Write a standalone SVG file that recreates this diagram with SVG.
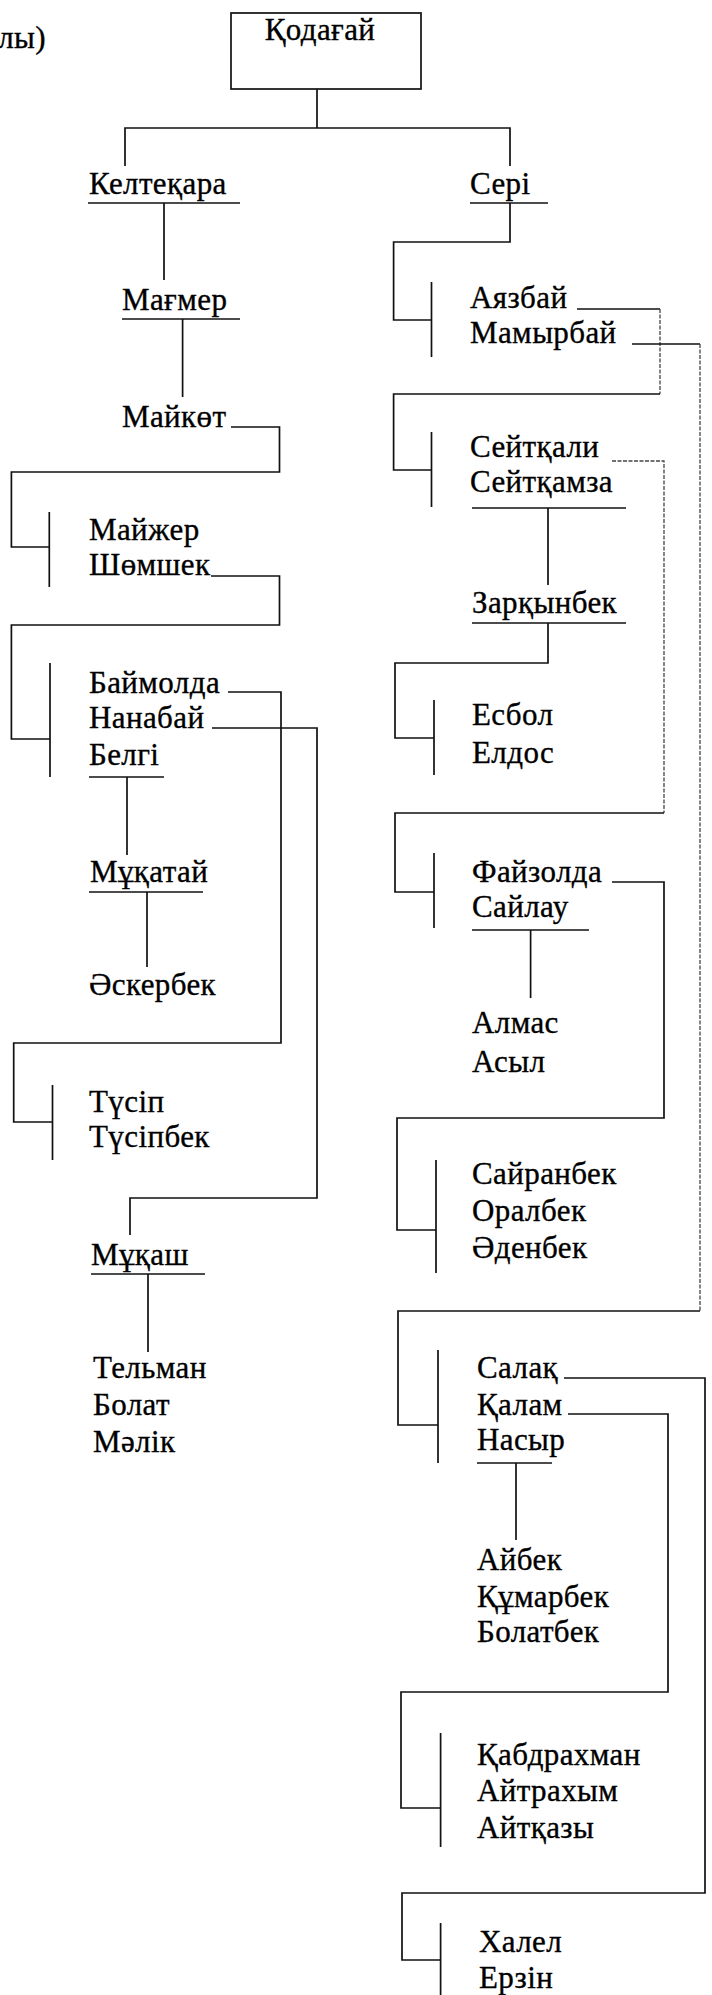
<svg xmlns="http://www.w3.org/2000/svg" width="712" height="1995" viewBox="0 0 712 1995" font-family="'Liberation Serif', serif">
<style>
text{font-family:"Liberation Serif",serif;font-size:31px;fill:#000;stroke:#000;stroke-width:0.35px;letter-spacing:0.4px}
.c{stroke:#111;stroke-width:1.7;fill:none}
.d{stroke:#444;stroke-width:1.3;fill:none;stroke-dasharray:4 1.5}
</style>
<rect width="712" height="1995" fill="#fff"/>
<text x="46" y="48" text-anchor="end">лы)</text>
<g id="n-kodagai"><rect x="231" y="13" width="190" height="76" class="c"/><text x="320" y="40" text-anchor="middle">Қодағай</text></g>
<g id="n-kelte"><text x="89" y="194">Келтеқара</text><line x1="88" y1="203" x2="240" y2="203" class="c"/></g>
<g id="n-seri"><text x="470" y="194">Сері</text><line x1="470" y1="203" x2="548" y2="203" class="c"/></g>
<g id="n-magmer"><text x="122" y="310">Мағмер</text><line x1="122" y1="319" x2="240" y2="319" class="c"/></g>
<g id="n-maikot"><text x="122" y="427">Майкөт</text></g>
<g id="n-maizher"><text x="89" y="540">Майжер</text><text x="89" y="575">Шөмшек</text></g>
<g id="n-baimolda"><text x="89" y="693">Баймолда</text><text x="89" y="728">Нанабай</text><text x="89" y="765">Белгі</text><line x1="89" y1="777" x2="164" y2="777" class="c"/></g>
<g id="n-mukatai"><text x="90" y="882">Мұқатай</text><line x1="89" y1="892" x2="203" y2="892" class="c"/></g>
<g id="n-askerbek"><text x="89" y="995">Әскербек</text></g>
<g id="n-tusip"><text x="89" y="1112">Түсіп</text><text x="89" y="1147">Түсіпбек</text></g>
<g id="n-mukash"><text x="91" y="1265">Мұқаш</text><line x1="91" y1="1274" x2="205" y2="1274" class="c"/></g>
<g id="n-telman"><text x="93" y="1378">Тельман</text><text x="93" y="1415">Болат</text><text x="93" y="1452">Мәлік</text></g>
<g id="n-ayazbai"><text x="470" y="308">Аязбай</text><text x="470" y="343">Мамырбай</text></g>
<g id="n-seitkali"><text x="470" y="457">Сейтқали</text><text x="470" y="492">Сейтқамза</text><line x1="472" y1="508" x2="626" y2="508" class="c"/></g>
<g id="n-zarkynbek"><text x="472" y="613">Зарқынбек</text><line x1="472" y1="623" x2="626" y2="623" class="c"/></g>
<g id="n-esbol"><text x="472" y="725">Есбол</text><text x="472" y="763">Елдос</text></g>
<g id="n-faizolda"><text x="472" y="882">Файзолда</text><text x="472" y="917">Сайлау</text><line x1="472" y1="930" x2="589" y2="930" class="c"/></g>
<g id="n-almas"><text x="472" y="1033">Алмас</text><text x="472" y="1072">Асыл</text></g>
<g id="n-sairanbek"><text x="472" y="1184">Сайранбек</text><text x="472" y="1221">Оралбек</text><text x="472" y="1258">Әденбек</text></g>
<g id="n-salak"><text x="477" y="1378">Салақ</text><text x="477" y="1415">Қалам</text><text x="477" y="1450">Насыр</text><line x1="477" y1="1463" x2="552" y2="1463" class="c"/></g>
<g id="n-aibek"><text x="477" y="1570">Айбек</text><text x="477" y="1607">Құмарбек</text><text x="477" y="1642">Болатбек</text></g>
<g id="n-kabdrakhman"><text x="477" y="1765">Қабдрахман</text><text x="477" y="1801">Айтрахым</text><text x="477" y="1838">Айтқазы</text></g>
<g id="n-khalel"><text x="479" y="1952">Халел</text><text x="479" y="1988">Ерзін</text></g>
<g id="connectors">
<path class="c" d="M317 89V128M125 166V128H510V166"/>
<path class="c" d="M164 203V280M182.6 319V397"/>
<path class="c" d="M231 427H279.5V472H11.4V547H49.3M49.3 512V587"/>
<path class="c" d="M211 576H279.5V625H11.4V739H50M50 663V777"/>
<path class="c" d="M228 692H281V1043H13.7V1122H52.5M52.5 1085V1160"/>
<path class="c" d="M212 728H317V1198H130V1235"/>
<path class="c" d="M127 777V855M147 892V967M148 1274V1352"/>
<path class="c" d="M510 203V242H393.6V320H431.5M431.5 282V357"/>
<path class="c" d="M577 309H660"/>
<path class="d" d="M660 309V394"/>
<path class="c" d="M660 394H393.6V470H431.5M431.5 432V507"/>
<path class="c" d="M632 344H700"/>
<path class="d" d="M700 344V1311"/>
<path class="d" d="M612 461H664V813"/>
<path class="c" d="M664 813H395V892H434M434 853V928"/>
<path class="c" d="M548 508V585M548 623V663H395V738H434M434 700V775"/>
<path class="c" d="M612 882H664V1118H397V1230H436M436 1160V1273"/>
<path class="c" d="M530.6 930V998"/>
<path class="c" d="M700 1311H398V1425H438M438 1350V1463"/>
<path class="c" d="M564 1378H705V1893H402V1960H440.6M440.6 1923V1995"/>
<path class="c" d="M568 1414H668V1692H401V1808H440.6M440.6 1733V1847"/>
<path class="c" d="M516 1463V1540"/>
</g>
</svg>
